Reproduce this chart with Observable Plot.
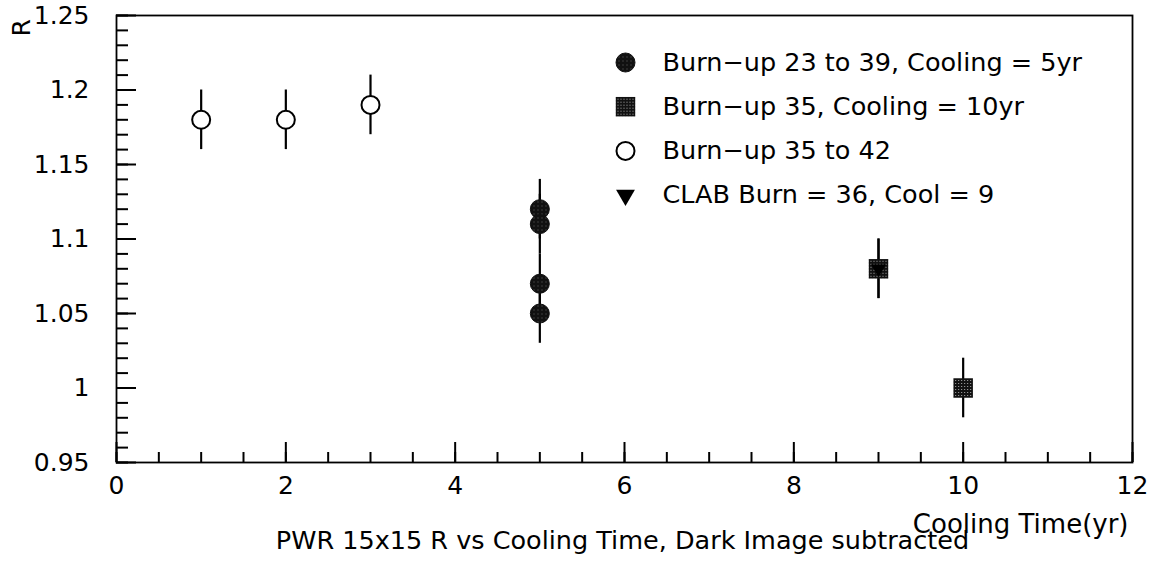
<!DOCTYPE html>
<html>
<head>
<meta charset="utf-8">
<script src="https://cdn.jsdelivr.net/npm/d3@7"></script>
<script src="https://cdn.jsdelivr.net/npm/@observablehq/plot@0.6"></script>
<style>
  body { margin: 0; background: #fff; }
  #chart svg { display: block; }
</style>
</head>
<body>
<div id="chart"></div>
<script>
// Ratio R against cooling time for each group of fuel assemblies
const cool5Years = [5, 5, 5, 5];
const cool5R = [1.12, 1.11, 1.07, 1.05];

const cool10Years = [9, 10];
const cool10R = [1.08, 1.00];

const burn35to42Years = [1, 2, 3];
const burn35to42R = [1.18, 1.18, 1.19];

const clabYears = [9];
const clabR = [1.08];

const rError = 0.02;

const seriesLabels = [
  "Burn\u2212up 23 to 39, Cooling = 5yr",
  "Burn\u2212up 35, Cooling = 10yr",
  "Burn\u2212up 35 to 42",
  "CLAB Burn = 36, Cool = 9"
];

const xMajorTicks = [0, 2, 4, 6, 8, 10, 12];
const yMajorTicks = [0.95, 1, 1.05, 1.1, 1.15, 1.2, 1.25];
const xMinorTicks = d3.range(0, 12.001, 0.5);
const yMinorTicks = d3.range(95, 126).map(v => v / 100);

const xTitle = "Cooling Time(yr)";
const yTitle = "R";
const caption = "PWR 15x15 R vs Cooling Time, Dark Image subtracted";

// Build one row per measurement
const rows = (years, values, series) =>
  years.map((t, i) => ({ t, r: values[i], series }));

const cool5 = rows(cool5Years, cool5R, 0);
const cool10 = rows(cool10Years, cool10R, 1);
const burn35to42 = rows(burn35to42Years, burn35to42R, 2);
const clab = rows(clabYears, clabR, 3);
const all = [...cool5, ...cool10, ...burn35to42, ...clab];

// Marker style per series
const styles = [
  { symbol: "circle", r: 9.5, fill: "url(#dotsSparse)", stroke: "#111", strokeWidth: 1 },
  { symbol: "square", r: 11, fill: "url(#dotsDense)", stroke: "none" },
  { symbol: "circle", r: 9, fill: "white", stroke: "black", strokeWidth: 2 },
  { symbol: "triangle", r: 7, fill: "black", stroke: "none", rotate: 180 }
];

const fmt = d => String(+d.toFixed(2));

// Legend rows, anchored to the top-left corner of the frame
const legendMarks = seriesLabels.flatMap((label, i) => [
  Plot.dot([label], { frameAnchor: "top-left", dx: 509, dy: 47 + i * 44.2, ...styles[i] }),
  Plot.text([label], {
    frameAnchor: "top-left", dx: 546, dy: 47 + i * 44.2,
    textAnchor: "start", lineAnchor: "middle", fontSize: 25.5, fill: "black"
  })
]);

const chart = Plot.plot({
  width: 1155,
  height: 568,
  marginLeft: 116,
  marginRight: 23,
  marginTop: 15,
  marginBottom: 106,
  style: { fontFamily: "'DejaVu Sans', sans-serif", fontSize: "24px", background: "white", color: "black" },
  x: { domain: [0, 12], label: null },
  y: { domain: [0.95, 1.25], label: null },
  marks: [
    // inward minor ticks (no labels)
    Plot.axisX({ ticks: xMinorTicks, tickSize: -10, strokeWidth: 2, fill: "none", label: null }),
    Plot.axisY({ ticks: yMinorTicks, tickSize: -12, strokeWidth: 2, fill: "none", label: null }),
    // inward major ticks with labels
    Plot.axisX({ ticks: xMajorTicks, tickSize: -20, tickPadding: 34, strokeWidth: 2, tickFormat: fmt, label: null, fontSize: 25 }),
    Plot.axisY({ ticks: yMajorTicks, tickSize: -20, tickPadding: 47, strokeWidth: 2, tickFormat: fmt, label: null, fontSize: 25 }),
    Plot.frame({ stroke: "black", strokeWidth: 1.8 }),

    // error bars
    Plot.ruleX(all, { x: "t", y1: d => d.r - rError, y2: d => d.r + rError, stroke: "black", strokeWidth: 2.2 }),

    // markers
    Plot.dot(cool5, { x: "t", y: "r", ...styles[0] }),
    Plot.dot(cool10, { x: "t", y: "r", ...styles[1] }),
    Plot.dot(burn35to42, { x: "t", y: "r", ...styles[2] }),
    Plot.dot(clab, { x: "t", y: "r", ...styles[3], r: 5.5 }),

    ...legendMarks,

    // titles
    Plot.text([yTitle], { frameAnchor: "top-left", dx: -104, dy: 21, rotate: -90, fontSize: 25, fill: "black" }),
    Plot.text([xTitle], { frameAnchor: "bottom-right", dx: -4, dy: 70, textAnchor: "end", lineAnchor: "bottom", fontSize: 26, fill: "black" }),
    Plot.text([caption], { frameAnchor: "bottom", dx: -2, dy: 86, lineAnchor: "bottom", fontSize: 25.5, fill: "black" })
  ]
});

// Dithered fills for the solid markers
const ns = "http://www.w3.org/2000/svg";
const defs = document.createElementNS(ns, "defs");
defs.innerHTML = `
  <pattern id="dotsDense" width="3" height="3" patternUnits="userSpaceOnUse">
    <rect width="3" height="3" fill="#111"/>
    <rect x="1" y="1" width="1" height="1" fill="#aaa"/>
  </pattern>
  <pattern id="dotsSparse" width="4" height="4" patternUnits="userSpaceOnUse">
    <rect width="4" height="4" fill="#111"/>
    <rect x="1" y="1" width="1" height="1" fill="#666"/>
  </pattern>`;
chart.insertBefore(defs, chart.firstChild);

document.getElementById("chart").appendChild(chart);
</script>
</body>
</html>
